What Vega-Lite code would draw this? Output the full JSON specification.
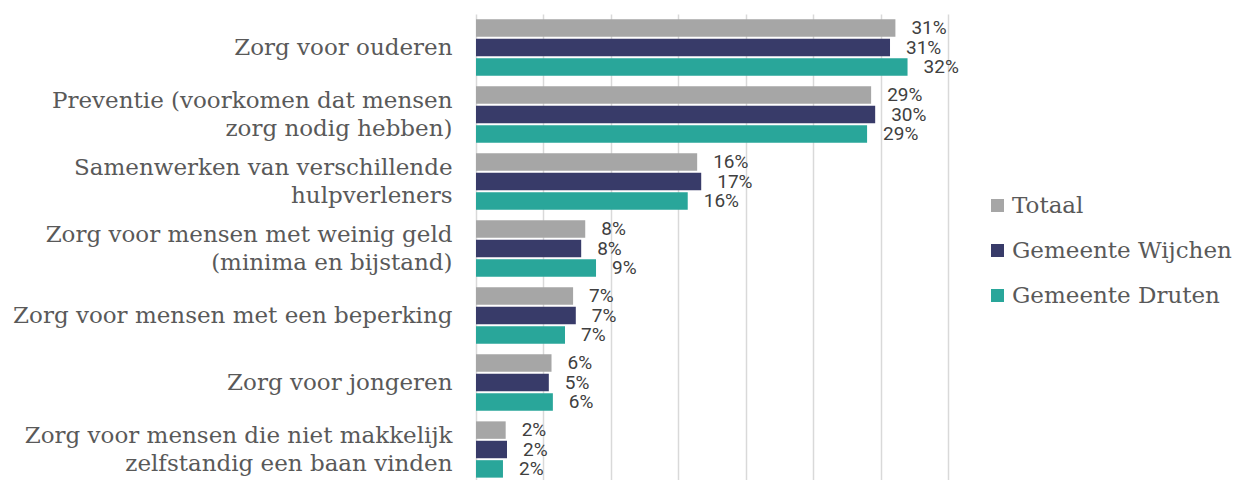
{
  "$schema": "https://vega.github.io/schema/vega-lite/v6.json",
  "width": 472,
  "height": 469,
  "autosize": {"type": "none"},
  "padding": {"left": 476, "top": 14, "right": 285, "bottom": 0},
  "background": "white",
  "config": {"view": {"stroke": null}},
  "data": {
    "values": [
      {"category": "Zorg voor ouderen", "series": "Totaal", "value": 0.311},
      {"category": "Zorg voor ouderen", "series": "Gemeente Wijchen", "value": 0.307},
      {"category": "Zorg voor ouderen", "series": "Gemeente Druten", "value": 0.320},
      {"category": "Preventie (voorkomen dat mensen|zorg nodig hebben)", "series": "Totaal", "value": 0.293},
      {"category": "Preventie (voorkomen dat mensen|zorg nodig hebben)", "series": "Gemeente Wijchen", "value": 0.296},
      {"category": "Preventie (voorkomen dat mensen|zorg nodig hebben)", "series": "Gemeente Druten", "value": 0.290},
      {"category": "Samenwerken van verschillende|hulpverleners", "series": "Totaal", "value": 0.164},
      {"category": "Samenwerken van verschillende|hulpverleners", "series": "Gemeente Wijchen", "value": 0.167},
      {"category": "Samenwerken van verschillende|hulpverleners", "series": "Gemeente Druten", "value": 0.157},
      {"category": "Zorg voor mensen met weinig geld|(minima en bijstand)", "series": "Totaal", "value": 0.081},
      {"category": "Zorg voor mensen met weinig geld|(minima en bijstand)", "series": "Gemeente Wijchen", "value": 0.078},
      {"category": "Zorg voor mensen met weinig geld|(minima en bijstand)", "series": "Gemeente Druten", "value": 0.089},
      {"category": "Zorg voor mensen met een beperking", "series": "Totaal", "value": 0.072},
      {"category": "Zorg voor mensen met een beperking", "series": "Gemeente Wijchen", "value": 0.074},
      {"category": "Zorg voor mensen met een beperking", "series": "Gemeente Druten", "value": 0.066},
      {"category": "Zorg voor jongeren", "series": "Totaal", "value": 0.056},
      {"category": "Zorg voor jongeren", "series": "Gemeente Wijchen", "value": 0.054},
      {"category": "Zorg voor jongeren", "series": "Gemeente Druten", "value": 0.057},
      {"category": "Zorg voor mensen die niet makkelijk|zelfstandig een baan vinden", "series": "Totaal", "value": 0.022},
      {"category": "Zorg voor mensen die niet makkelijk|zelfstandig een baan vinden", "series": "Gemeente Wijchen", "value": 0.023},
      {"category": "Zorg voor mensen die niet makkelijk|zelfstandig een baan vinden", "series": "Gemeente Druten", "value": 0.020}
    ]
  },
  "encoding": {
    "y": {
      "field": "category",
      "type": "nominal",
      "sort": null,
      "scale": {"paddingInner": 0.16, "paddingOuter": 0.08},
      "axis": {
        "title": null,
        "labelExpr": "split(datum.label, '|')",
        "labelFont": "DejaVu Serif",
        "labelFontSize": 23,
        "labelColor": "#595959",
        "labelLineHeight": 28,
        "labelPadding": 24,
        "labelLimit": 480,
        "labelOffset": {"condition": {"test": "indexof(datum.value, '|') >= 0", "value": -14}, "value": 0},
        "ticks": false,
        "domain": false,
        "grid": false
      }
    },
    "yOffset": {
      "field": "series",
      "type": "nominal",
      "scale": {"domain": ["Totaal", "Gemeente Wijchen", "Gemeente Druten"], "paddingInner": 0.1}
    },
    "x": {
      "field": "value",
      "type": "quantitative",
      "scale": {"domain": [0, 0.35], "nice": false},
      "axis": {
        "title": null,
        "labels": false,
        "ticks": false,
        "domain": false,
        "grid": true,
        "gridColor": "#d9d9d9",
        "gridWidth": 1.5,
        "values": [0, 0.05, 0.1, 0.15, 0.2, 0.25, 0.3, 0.35]
      }
    }
  },
  "layer": [
    {
      "mark": {"type": "bar"},
      "encoding": {
        "color": {
          "field": "series",
          "type": "nominal",
          "scale": {
            "domain": ["Totaal", "Gemeente Wijchen", "Gemeente Druten"],
            "range": ["#a6a6a6", "#383b69", "#29a69a"]
          },
          "legend": {
            "title": null,
            "orient": "none",
            "legendX": 510,
            "legendY": 180,
            "symbolType": "square",
            "symbolSize": 170,
            "symbolStrokeWidth": 0,
            "labelFont": "DejaVu Serif",
            "labelFontSize": 23,
            "labelColor": "#595959",
            "labelOffset": 3,
            "labelLimit": 300,
            "rowPadding": 21
          }
        }
      }
    },
    {
      "mark": {
        "type": "text",
        "align": "left",
        "baseline": "middle",
        "dx": 16,
        "font": "Roboto",
        "fontSize": 19,
        "color": "#404040"
      },
      "encoding": {
        "text": {"field": "value", "type": "quantitative", "format": ".0%"}
      }
    }
  ]
}
